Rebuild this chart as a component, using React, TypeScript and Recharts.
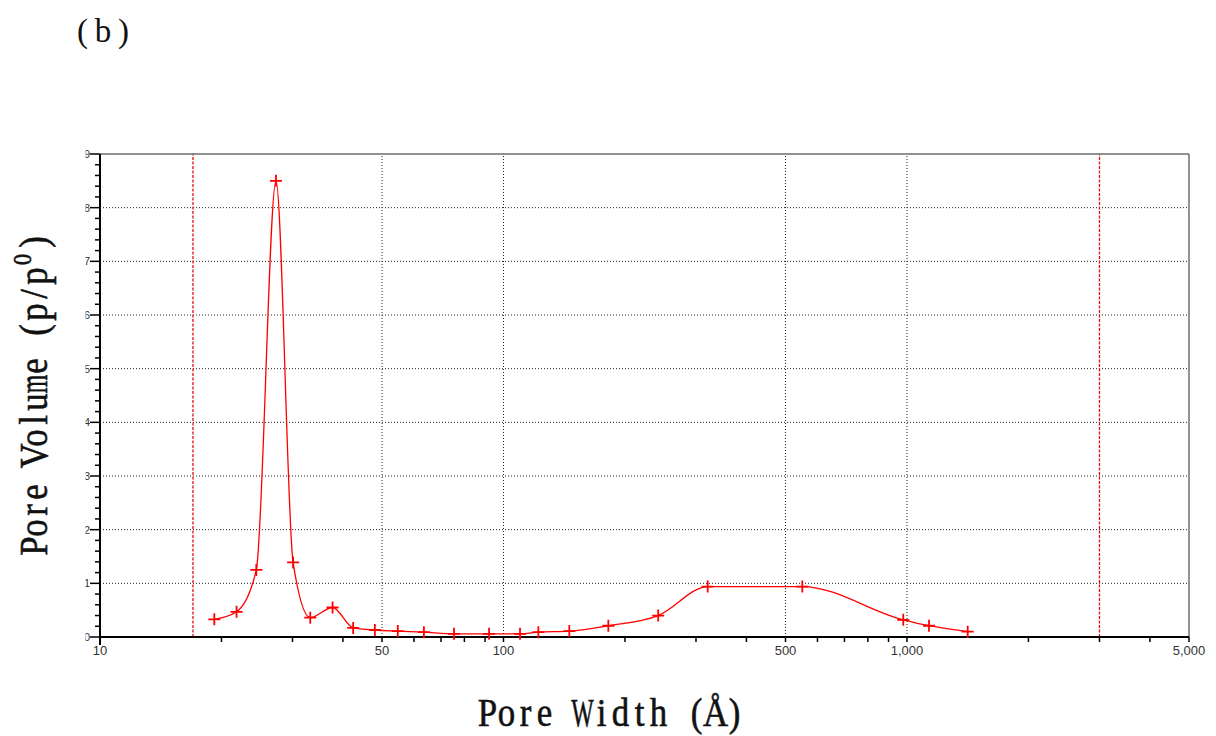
import React from "react";
import { LineChart, Line, XAxis, YAxis, ReferenceLine } from "recharts";

// pore width (Å) and pore volume
const poreWidth = [
  19.2, 21.8, 24.4, 27.3, 30.1, 33.2, 37.7, 42.4, 48.0, 54.7, 63.5, 75.4,
  92.1, 109.9, 122.0, 145.6, 181.9, 241.8, 320.7, 550.3, 979, 1134, 1414,
];
const poreVolume = [
  0.33, 0.47, 1.25, 8.5, 1.39, 0.36, 0.55, 0.17, 0.13, 0.11, 0.09, 0.06,
  0.06, 0.06, 0.09, 0.11, 0.21, 0.4, 0.94, 0.94, 0.32, 0.21, 0.1,
];

const xTicks = [
  10, 20, 30, 40, 50, 60, 70, 80, 90, 100, 200, 300, 400, 500, 600, 700, 800,
  900, 1000, 2000, 3000, 4000, 5000,
];
const xLabels = [10, 50, 100, 500, 1000, 5000];
const xGrid = [50, 100, 500, 1000];
const xMarkers = [17, 3000];

const yTicks = [
  0, 0.2, 0.4, 0.6, 0.8, 1, 1.2, 1.4, 1.6, 1.8, 2, 2.2, 2.4, 2.6, 2.8, 3, 3.2,
  3.4, 3.6, 3.8, 4, 4.2, 4.4, 4.6, 4.8, 5, 5.2, 5.4, 5.6, 5.8, 6, 6.2, 6.4,
  6.6, 6.8, 7, 7.2, 7.4, 7.6, 7.8, 8, 8.2, 8.4, 8.6, 8.8, 9,
];
const yLabels = [0, 1, 2, 3, 4, 5, 6, 7, 8, 9];
const yGrid = [1, 2, 3, 4, 5, 6, 7, 8];

const data = poreWidth.map((w, i) => ({ width: w, volume: poreVolume[i] }));

const serif = "'Liberation Serif', 'DejaVu Serif', serif";
const WIDE = "WMmw";

// serif glyphs laid out on a fixed pitch, squeezed, like a half-width CJK font
function MonoText(props: {
  x: number;
  y: number;
  text: string;
  cell: number;
  fontSize: number;
}) {
  const { x, y, text, cell, fontSize } = props;
  return (
    <g transform={`translate(${x},${y})`}>
      {Array.from(text).map((c, i) => (
        <g
          key={i}
          transform={`translate(${(i + 0.5) * cell},0) scale(${
            WIDE.includes(c) ? 0.58 : 0.85
          },1)`}
        >
          <text
            x={0}
            y={0}
            textAnchor="middle"
            fontSize={fontSize}
            fontFamily={serif}
            fill="#111"
            stroke="#111"
            strokeWidth={0.6}
          >
            {c}
          </text>
        </g>
      ))}
    </g>
  );
}

const XTick = (props: any) => {
  const { x, y, payload } = props;
  const v = payload.value as number;
  const first = v === 10;
  return (
    <g>
      <line
        x1={x}
        x2={x}
        y1={y}
        y2={y + (first ? 8 : 5)}
        stroke="#000"
        strokeWidth={first ? 2 : 1.5}
      />
      {xLabels.includes(v) && (
        <text
          x={x}
          y={y + 18}
          textAnchor="middle"
          fontSize={13}
          fill="#333"
          fontFamily="'Liberation Sans', Arial, sans-serif"
        >
          {v.toLocaleString("en-US")}
        </text>
      )}
    </g>
  );
};

const YTick = (props: any) => {
  const { x, y, payload, index } = props;
  const v = payload.value as number;
  const major = yLabels.includes(v);
  const id = `yclip-${index}`;
  return (
    <g>
      <line
        x1={x - (major ? 10 : 5)}
        x2={x}
        y1={y}
        y2={y}
        stroke="#000"
        strokeWidth={1.5}
      />
      {major && (
        <>
          <defs>
            <clipPath id={id}>
              <rect x={x - 14.5} y={y - 10} width={4.5} height={20} />
            </clipPath>
          </defs>
          <text
            x={x - 10}
            y={y + 4}
            textAnchor="end"
            fontSize={11}
            fill="#333"
            fontFamily="'Liberation Sans', Arial, sans-serif"
            clipPath={`url(#${id})`}
          >
            {v}
          </text>
        </>
      )}
    </g>
  );
};

const PlusDot = (props: any) => {
  const { cx, cy, index } = props;
  if (cx == null || cy == null) return <g key={index} />;
  return (
    <path
      key={index}
      d={`M${cx - 6},${cy}H${cx + 6}M${cx},${cy - 6}V${cy + 6}`}
      stroke="#ff0000"
      strokeWidth={1.8}
      fill="none"
    />
  );
};

export default function App() {
  return (
    <div
      style={{
        position: "absolute",
        left: 0,
        top: 0,
        width: 1216,
        height: 736,
        background: "#fff",
      }}
    >
      <LineChart
        width={1216}
        height={736}
        data={data}
        margin={{ top: 154, right: 27, bottom: 69, left: 80 }}
      >
        {yGrid.map((g) => (
          <ReferenceLine
            key={`hy${g}`}
            y={g}
            stroke="#222"
            strokeDasharray="1 2"
            strokeWidth={1}
          />
        ))}
        {xGrid.map((g) => (
          <ReferenceLine
            key={`vx${g}`}
            x={g}
            stroke="#222"
            strokeDasharray="1 2"
            strokeWidth={1}
          />
        ))}
        {xMarkers.map((m) => (
          <ReferenceLine
            key={`mk${m}`}
            x={m}
            stroke="#e01010"
            strokeDasharray="3 1.5"
            strokeWidth={1.3}
          />
        ))}
        <ReferenceLine y={9} stroke="#6e6e6e" strokeWidth={1.5} />
        <ReferenceLine x={5000} stroke="#6e6e6e" strokeWidth={1.5} />
        <XAxis
          dataKey="width"
          type="number"
          scale="log"
          domain={[10, 5000]}
          ticks={xTicks}
          interval={0}
          allowDataOverflow
          height={30}
          tickSize={0}
          tickMargin={0}
          tickLine={false}
          axisLine={{ stroke: "#000", strokeWidth: 2 }}
          tick={<XTick />}
        />
        <YAxis
          type="number"
          domain={[0, 9]}
          ticks={yTicks}
          interval={0}
          width={20}
          tickSize={0}
          tickMargin={0}
          tickLine={false}
          axisLine={{ stroke: "#000", strokeWidth: 2 }}
          tick={<YTick />}
        />
        <Line
          dataKey="volume"
          type="monotone"
          stroke="#ff0000"
          strokeWidth={1.3}
          dot={PlusDot}
          activeDot={false}
          isAnimationActive={false}
        />
      </LineChart>
      <svg
        width={1216}
        height={736}
        style={{ position: "absolute", left: 0, top: 0, pointerEvents: "none" }}
      >
        <text
          x={77}
          y={42}
          fontSize={33}
          fill="#111"
          fontFamily={serif}
          textLength={52}
          lengthAdjust="spacing"
        >
          (b)
        </text>
        <MonoText x={478} y={726} text="Pore Width (Å)" cell={19} fontSize={41} />
        <g transform="translate(47,555) rotate(-90)">
          <MonoText x={0} y={0} text="Pore Volume (p/p" cell={18} fontSize={41} />
          <MonoText x={288} y={-16} text="0" cell={15} fontSize={26} />
          <MonoText x={304} y={0} text=")" cell={18} fontSize={41} />
        </g>
      </svg>
    </div>
  );
}
